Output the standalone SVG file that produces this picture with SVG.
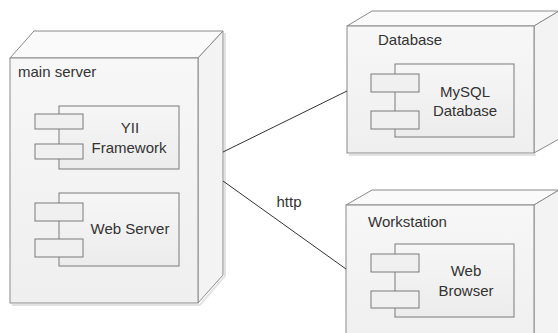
<svg xmlns="http://www.w3.org/2000/svg" width="558" height="333" viewBox="0 0 558 333">
<defs>
<linearGradient id="gFront" x1="0" y1="0" x2="0" y2="1">
<stop offset="0" stop-color="#f7f7f7"/>
<stop offset="1" stop-color="#efefef"/>
</linearGradient>
<linearGradient id="gComp" x1="0" y1="0" x2="0" y2="1">
<stop offset="0" stop-color="#f6f6f6"/>
<stop offset="1" stop-color="#ececec"/>
</linearGradient>
</defs>
<style>
.face{fill:url(#gFront);stroke:#8a8a8a;stroke-width:1}
.top{fill:#fafafa;stroke:#8a8a8a;stroke-width:1}
.side{fill:#f3f3f3;stroke:#8a8a8a;stroke-width:1}
.shadow{fill:none;stroke:#e2e2e2;stroke-width:2}
.comp{fill:url(#gComp);stroke:#7a7a7a;stroke-width:1}
.tab{fill:#f0f0f0;stroke:#7a7a7a;stroke-width:1}
text{font-family:"Liberation Sans",Arial,sans-serif;font-size:15px;fill:#333}
.c{text-anchor:middle}
.conn{stroke:#333;stroke-width:1;fill:none}
</style>
<g id="main-server">
<path class="shadow" d="M225,33 V276 L200,305 H12"/>
<path class="top" d="M10,58 L34,31 H223 L198,58 Z"/>
<path class="side" d="M198,58 L223,31 V275 L198,303 Z"/>
<rect class="face" x="10" y="58" width="188" height="245"/>
<text x="18" y="77">main server</text>
<g id="yii-framework">
<rect class="comp" x="59" y="106" width="120" height="63"/>
<rect class="tab" x="35" y="114" width="48" height="15"/>
<rect class="tab" x="35" y="144" width="48" height="15"/>
<text class="c" x="130" y="133">YII</text>
<text class="c" x="129" y="153">Framework</text>
</g>
<g id="web-server">
<rect class="comp" x="59" y="193" width="120" height="73"/>
<rect class="tab" x="35" y="203" width="48" height="18"/>
<rect class="tab" x="35" y="239" width="48" height="18"/>
<text class="c" x="130" y="234">Web Server</text>
</g>
</g>
<g id="database-node">
<path class="shadow" d="M536,155 H349"/>
<path class="top" d="M347,26 L372,11 H559 L534,26 Z"/>
<path class="side" d="M534,26 L559,11 V139 L534,153 Z"/>
<rect class="face" x="347" y="26" width="187" height="127"/>
<text x="378" y="45">Database</text>
<g id="mysql-database">
<rect class="comp" x="395" y="64" width="119" height="73"/>
<rect class="tab" x="371" y="74" width="48" height="18"/>
<rect class="tab" x="371" y="111" width="48" height="18"/>
<text class="c" x="465" y="97">MySQL</text>
<text class="c" x="465" y="116">Database</text>
</g>
</g>
<g id="workstation-node">
<path class="top" d="M346,205 L372,190 H559 L534,205 Z"/>
<path class="side" d="M534,205 L559,190 V340 L534,345 Z"/>
<rect class="face" x="346" y="205" width="188" height="140"/>
<text x="368" y="227">Workstation</text>
<g id="web-browser">
<rect class="comp" x="395" y="244" width="119" height="73"/>
<rect class="tab" x="371" y="254" width="48" height="18"/>
<rect class="tab" x="371" y="291" width="48" height="17"/>
<text class="c" x="466" y="276">Web</text>
<text class="c" x="466" y="296">Browser</text>
</g>
</g>
<g id="connectors">
<line class="conn" x1="223" y1="152" x2="347" y2="91"/>
<line class="conn" x1="223" y1="181" x2="346" y2="269"/>
<text class="c" x="289" y="207">http</text>
</g>
</svg>
